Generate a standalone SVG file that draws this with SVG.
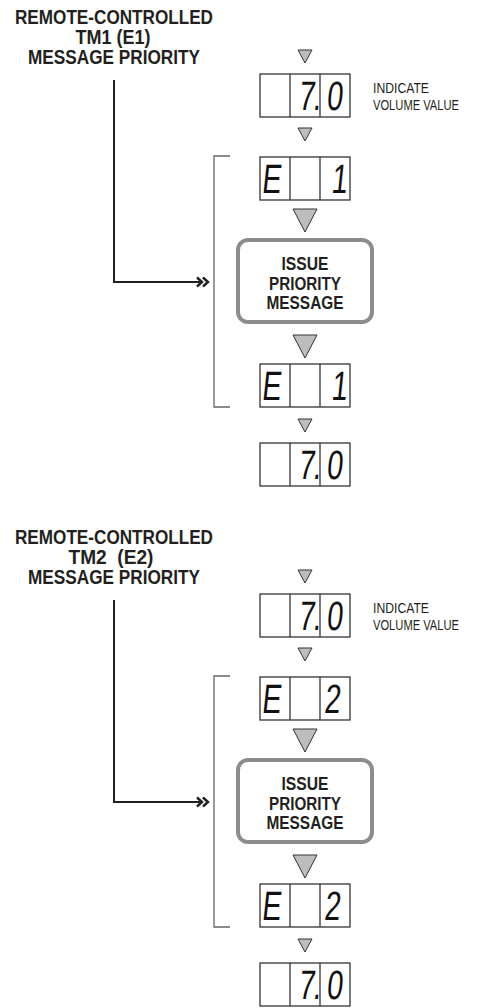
<svg xmlns="http://www.w3.org/2000/svg" xmlns:xlink="http://www.w3.org/1999/xlink" width="488" height="1008" viewBox="0 0 488 1008">
<style>
.ttl{font-family:"Liberation Sans",Arial,sans-serif;font-weight:bold;font-size:19.5px;fill:#231f20;text-anchor:middle}
.box{font-family:"Liberation Sans",Arial,sans-serif;font-weight:bold;font-size:18px;fill:#231f20;text-anchor:middle}
.note{font-family:"Liberation Sans",Arial,sans-serif;font-size:14px;fill:#231f20}
.seg{font-family:"Liberation Sans",Arial,sans-serif;font-size:41px;fill:#111;text-anchor:middle}
.frame{fill:#fff;stroke:#333;stroke-width:1.3}
.tri{fill:#bdbdbd;stroke:#333;stroke-width:1}
.brk{fill:none;stroke:#666;stroke-width:1.3}
.conn{fill:none;stroke:#231f20;stroke-width:2}
.chev{fill:none;stroke:#231f20;stroke-width:2.4;stroke-linejoin:miter}
.rbox{fill:#fff;stroke:#8c8c8c;stroke-width:4}
</style>
<defs>
<g id="frm"><rect class="frame" x="0" y="0" width="90" height="43"/><line class="frame" x1="30" y1="0" x2="30" y2="43"/><line class="frame" x1="60" y1="0" x2="60" y2="43"/></g>
<polygon id="ts" class="tri" points="-7,0 7,0 0,13"/>
<polygon id="tb" class="tri" points="-12,0 12,0 0,23"/>
</defs>

<!-- ===== Section 1 ===== -->
<g id="title1">
<text class="ttl" x="114" y="24" textLength="198" lengthAdjust="spacingAndGlyphs">REMOTE-CONTROLLED</text>
<text class="ttl" x="113" y="44" textLength="75" lengthAdjust="spacingAndGlyphs">TM1 (E1)</text>
<text class="ttl" x="114" y="64" textLength="172" lengthAdjust="spacingAndGlyphs">MESSAGE PRIORITY</text>
</g>
<g id="connectors1">
<use xlink:href="#ts" x="305" y="50"/>
<use xlink:href="#ts" x="305" y="128"/>
<use xlink:href="#tb" x="305" y="209"/>
<use xlink:href="#tb" x="305" y="335"/>
<use xlink:href="#ts" x="305" y="419"/>
<polyline class="conn" points="114,80 114,282 200,282"/>
<path class="chev" d="M197,277.5 l5,4.5 l-5,4.5 M203,277.5 l5,4.5 l-5,4.5"/>
<polyline class="brk" points="230,156 214,156 214,407 230,407"/>
</g>
<g id="vol1a">
<use xlink:href="#frm" x="260" y="74"/>
<text class="seg" transform="translate(0,110) skewX(-6) scale(0.7,1)" x="437 452 477" y="0">7.0</text>
</g>
<g id="note1">
<text class="note" x="373" y="93" textLength="56" lengthAdjust="spacingAndGlyphs">INDICATE</text>
<text class="note" x="373" y="110" textLength="86" lengthAdjust="spacingAndGlyphs">VOLUME VALUE</text>
</g>
<g id="e1a">
<use xlink:href="#frm" x="260" y="157"/>
<text class="seg" transform="translate(0,193) skewX(-6) scale(0.7,1)" x="387 484" y="0">E1</text>
</g>
<g id="msg1">
<rect class="rbox" x="238" y="240" width="134" height="82" rx="10"/>
<text class="box" x="305" y="270" textLength="47" lengthAdjust="spacingAndGlyphs">ISSUE</text>
<text class="box" x="305" y="290" textLength="72" lengthAdjust="spacingAndGlyphs">PRIORITY</text>
<text class="box" x="305" y="309" textLength="77" lengthAdjust="spacingAndGlyphs">MESSAGE</text>
</g>
<g id="e1b">
<use xlink:href="#frm" x="260" y="364"/>
<text class="seg" transform="translate(0,400) skewX(-6) scale(0.7,1)" x="387 484" y="0">E1</text>
</g>
<g id="vol1b">
<use xlink:href="#frm" x="260" y="443"/>
<text class="seg" transform="translate(0,479) skewX(-6) scale(0.7,1)" x="437 452 477" y="0">7.0</text>
</g>

<!-- ===== Section 2 ===== -->
<g id="title2">
<text class="ttl" x="114" y="544" textLength="198" lengthAdjust="spacingAndGlyphs">REMOTE-CONTROLLED</text>
<text class="ttl" x="111" y="564" textLength="85" lengthAdjust="spacingAndGlyphs" xml:space="preserve">TM2  (E2)</text>
<text class="ttl" x="114" y="584" textLength="172" lengthAdjust="spacingAndGlyphs">MESSAGE PRIORITY</text>
</g>
<g id="connectors2">
<use xlink:href="#ts" x="305" y="570"/>
<use xlink:href="#ts" x="305" y="648"/>
<use xlink:href="#tb" x="305" y="729"/>
<use xlink:href="#tb" x="305" y="855"/>
<use xlink:href="#ts" x="305" y="939"/>
<polyline class="conn" points="114,600 114,802 200,802"/>
<path class="chev" d="M197,797.5 l5,4.5 l-5,4.5 M203,797.5 l5,4.5 l-5,4.5"/>
<polyline class="brk" points="230,676 214,676 214,927 230,927"/>
</g>
<g id="vol2a">
<use xlink:href="#frm" x="260" y="594"/>
<text class="seg" transform="translate(0,630) skewX(-6) scale(0.7,1)" x="437 452 477" y="0">7.0</text>
</g>
<g id="note2">
<text class="note" x="373" y="613" textLength="56" lengthAdjust="spacingAndGlyphs">INDICATE</text>
<text class="note" x="373" y="630" textLength="86" lengthAdjust="spacingAndGlyphs">VOLUME VALUE</text>
</g>
<g id="e2a">
<use xlink:href="#frm" x="260" y="677"/>
<text class="seg" transform="translate(0,713) skewX(-6) scale(0.7,1)" x="387 474" y="0">E2</text>
</g>
<g id="msg2">
<rect class="rbox" x="238" y="760" width="134" height="82" rx="10"/>
<text class="box" x="305" y="790" textLength="47" lengthAdjust="spacingAndGlyphs">ISSUE</text>
<text class="box" x="305" y="810" textLength="72" lengthAdjust="spacingAndGlyphs">PRIORITY</text>
<text class="box" x="305" y="829" textLength="77" lengthAdjust="spacingAndGlyphs">MESSAGE</text>
</g>
<g id="e2b">
<use xlink:href="#frm" x="260" y="884"/>
<text class="seg" transform="translate(0,920) skewX(-6) scale(0.7,1)" x="387 474" y="0">E2</text>
</g>
<g id="vol2b">
<use xlink:href="#frm" x="260" y="963"/>
<text class="seg" transform="translate(0,999) skewX(-6) scale(0.7,1)" x="437 452 477" y="0">7.0</text>
</g>
</svg>
